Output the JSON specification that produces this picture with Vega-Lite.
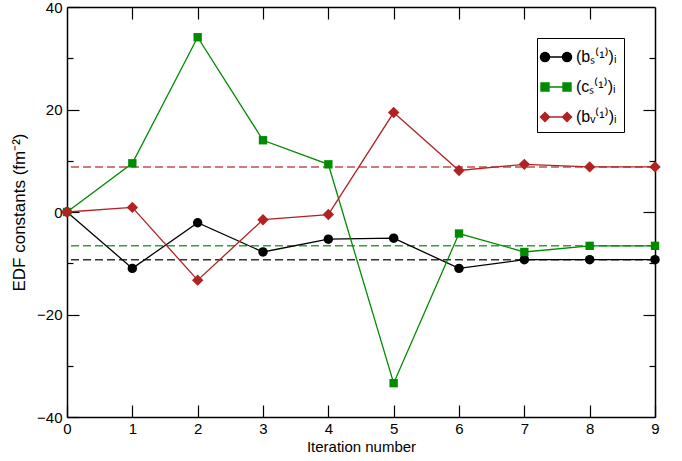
{
  "$schema": "https://vega.github.io/schema/vega-lite/v6.json",
  "width": 588,
  "height": 410,
  "autosize": {"type": "none"},
  "padding": {"left": 67, "top": 7, "right": 27, "bottom": 44},
  "background": "white",
  "config": {
    "view": {"stroke": null},
    "font": "Liberation Sans",
    "axis": {
      "domainColor": "black", "domainWidth": 1.5, "tickColor": "black", "tickWidth": 1.2,
      "labelColor": "black", "titleColor": "black", "grid": false,
      "labelFontSize": 15, "titleFontSize": 15, "titleFontWeight": "normal",
      "labelFont": "Liberation Sans", "titleFont": "Liberation Sans"
    },
    "legend": {
      "title": null, "orient": "top-right", "offset": 31, "padding": 7,
      "strokeColor": "black", "fillColor": "white",
      "labelFontSize": 16, "labelFont": "Liberation Sans", "labelColor": "black",
      "symbolSize": 484, "labelOffset": 8, "rowPadding": 10, "symbolStrokeWidth": 1.5
    }
  },
  "datasets": {
    "series": [
      {"it": 0, "series": "bs", "value": 0}, {"it": 1, "series": "bs", "value": -11}, {"it": 2, "series": "bs", "value": -2.1},
      {"it": 3, "series": "bs", "value": -7.8}, {"it": 4, "series": "bs", "value": -5.3}, {"it": 5, "series": "bs", "value": -5.1},
      {"it": 6, "series": "bs", "value": -11}, {"it": 7, "series": "bs", "value": -9.3}, {"it": 8, "series": "bs", "value": -9.3},
      {"it": 9, "series": "bs", "value": -9.3},
      {"it": 0, "series": "cs", "value": 0}, {"it": 1, "series": "cs", "value": 9.5}, {"it": 2, "series": "cs", "value": 34.1},
      {"it": 3, "series": "cs", "value": 14.0}, {"it": 4, "series": "cs", "value": 9.3}, {"it": 5, "series": "cs", "value": -33.4},
      {"it": 6, "series": "cs", "value": -4.2}, {"it": 7, "series": "cs", "value": -7.8}, {"it": 8, "series": "cs", "value": -6.6},
      {"it": 9, "series": "cs", "value": -6.6},
      {"it": 0, "series": "bv", "value": 0}, {"it": 1, "series": "bv", "value": 0.9}, {"it": 2, "series": "bv", "value": -13.3},
      {"it": 3, "series": "bv", "value": -1.5}, {"it": 4, "series": "bv", "value": -0.5}, {"it": 5, "series": "bv", "value": 19.4},
      {"it": 6, "series": "bv", "value": 8.1}, {"it": 7, "series": "bv", "value": 9.3}, {"it": 8, "series": "bv", "value": 8.8},
      {"it": 9, "series": "bv", "value": 8.8}
    ],
    "refs": [
      {"series": "bs", "value": -9.3},
      {"series": "cs", "value": -6.6},
      {"series": "bv", "value": 8.8}
    ]
  },
  "layer": [
    {
      "data": {"name": "refs"},
      "mark": {"type": "rule", "strokeDash": [8, 4], "strokeWidth": 1.5, "opacity": 0.8},
      "encoding": {
        "y": {"field": "value", "type": "quantitative", "scale": {"domain": [-40, 40]}, "axis": null},
        "color": {"field": "series", "type": "nominal", "scale": {"domain": ["bs", "cs", "bv"], "range": ["#000000", "#008b00", "#b22222"]},
          "legend": {
            "labelExpr": "datum.value == 'bs' ? '(bₛ⁽¹⁾)ᵢ' : datum.value == 'cs' ? '(cₛ⁽¹⁾)ᵢ' : '(bᵥ⁽¹⁾)ᵢ'",
            "encode": {"symbols": {"update": {
              "shape": {"signal": "datum.value == 'bs' ? 'M-1,0L1,0M-1.41,0a0.41,0.41 0 1,0 0.82,0a0.41,0.41 0 1,0 -0.82,0M0.59,0a0.41,0.41 0 1,0 0.82,0a0.41,0.41 0 1,0 -0.82,0' : datum.value == 'cs' ? 'M-1,0L1,0M-1.36,-0.36h0.72v0.72h-0.72zM0.64,-0.36h0.72v0.72h-0.72z' : 'M-1,0L1,0M-1.41,0L-1,-0.41L-0.59,0L-1,0.41zM0.59,0L1,-0.41L1.41,0L1,0.41z'"},
              "stroke": {"signal": "scale('color', datum.value)"},
              "fill": {"signal": "scale('color', datum.value)"},
              "strokeWidth": {"value": 1.5},
              "opacity": {"value": 1},
              "fillOpacity": {"value": 1},
              "strokeDash": {"value": []}
            }}}
          }}
      }
    },
    {
      "data": {"name": "series"},
      "mark": {"type": "line", "strokeWidth": 1.3},
      "encoding": {
        "x": {"field": "it", "type": "quantitative", "scale": {"domain": [0, 9], "nice": false},
          "axis": {"orient": "bottom", "values": [0,1,2,3,4,5,6,7,8,9], "tickSize": -12, "labelPadding": 16, "title": "Iteration number", "titlePadding": 3, "labelFlush": false}},
        "y": {"field": "value", "type": "quantitative", "scale": {"domain": [-40, 40], "nice": false},
          "axis": {"orient": "left", "values": [-40,-30,-20,-10,0,10,20,30,40],
            "tickSize": {"condition": {"test": "datum.value % 20 === 0", "value": -12}, "value": -6},
            "labelExpr": "datum.value % 20 === 0 ? datum.label : ''", "labelPadding": 17,
            "title": "EDF constants (fm⁻²)", "titleFontSize": 17, "titlePadding": 8, "labelFlush": false}},
        "color": {"field": "series", "type": "nominal", "scale": {"domain": ["bs", "cs", "bv"], "range": ["#000000", "#008b00", "#b22222"]},
          "legend": {
            "labelExpr": "datum.value == 'bs' ? '(bₛ⁽¹⁾)ᵢ' : datum.value == 'cs' ? '(cₛ⁽¹⁾)ᵢ' : '(bᵥ⁽¹⁾)ᵢ'",
            "encode": {"symbols": {"update": {
              "shape": {"signal": "datum.value == 'bs' ? 'M-1,0L1,0M-1.41,0a0.41,0.41 0 1,0 0.82,0a0.41,0.41 0 1,0 -0.82,0M0.59,0a0.41,0.41 0 1,0 0.82,0a0.41,0.41 0 1,0 -0.82,0' : datum.value == 'cs' ? 'M-1,0L1,0M-1.36,-0.36h0.72v0.72h-0.72zM0.64,-0.36h0.72v0.72h-0.72z' : 'M-1,0L1,0M-1.41,0L-1,-0.41L-0.59,0L-1,0.41zM0.59,0L1,-0.41L1.41,0L1,0.41z'"},
              "stroke": {"signal": "scale('color', datum.value)"},
              "fill": {"signal": "scale('color', datum.value)"},
              "strokeWidth": {"value": 1.5},
              "opacity": {"value": 1},
              "fillOpacity": {"value": 1},
              "strokeDash": {"value": []}
            }}}
          }}
      }
    },
    {
      "data": {"name": "series"},
      "transform": [{"filter": "datum.series == 'bs'"}],
      "mark": {"type": "point", "filled": true, "opacity": 1, "shape": "circle", "size": 90},
      "encoding": {
        "x": {"field": "it", "type": "quantitative", "scale": {"domain": [0, 9], "nice": false},
          "axis": {"orient": "top", "values": [1,2,3,4,5,6,7,8], "tickSize": -12, "labels": false, "title": null}},
        "y": {"field": "value", "type": "quantitative", "scale": {"domain": [-40, 40], "nice": false},
          "axis": {"orient": "right", "values": [-30,-20,-10,0,10,20,30],
            "tickSize": {"condition": {"test": "datum.value % 20 === 0", "value": -12}, "value": -6},
            "labels": false, "title": null}},
        "color": {"value": "#000000"}
      }
    },
    {
      "data": {"name": "series"},
      "transform": [{"filter": "datum.series == 'cs'"}],
      "mark": {"type": "point", "filled": true, "opacity": 1, "shape": "square", "size": 70},
      "encoding": {
        "x": {"field": "it", "type": "quantitative", "axis": null},
        "y": {"field": "value", "type": "quantitative", "axis": null},
        "color": {"value": "#008b00"}
      }
    },
    {
      "data": {"name": "series"},
      "transform": [{"filter": "datum.series == 'bv'"}],
      "mark": {"type": "point", "filled": true, "opacity": 1, "shape": "diamond", "size": 130},
      "encoding": {
        "x": {"field": "it", "type": "quantitative", "axis": null},
        "y": {"field": "value", "type": "quantitative", "axis": null},
        "color": {"value": "#b22222"}
      }
    }
  ],
  "resolve": {"axis": {"x": "independent", "y": "independent"}}
}
